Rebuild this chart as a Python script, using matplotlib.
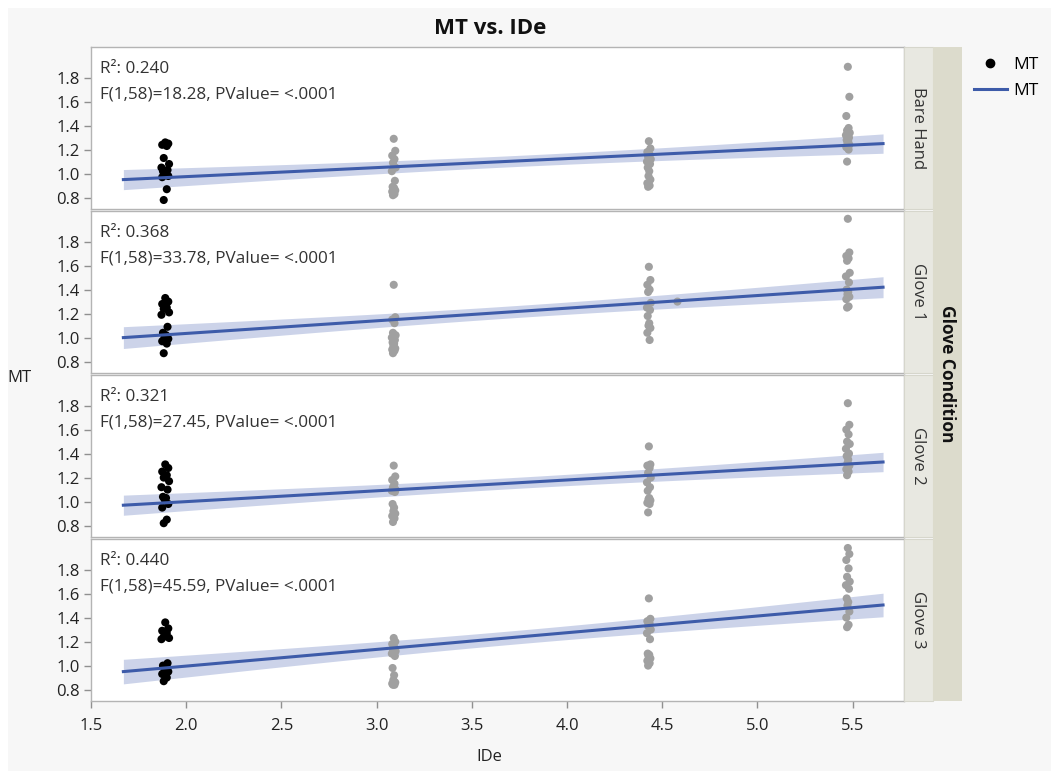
import numpy as np
import matplotlib
matplotlib.use('Agg')
import matplotlib.pyplot as plt
from matplotlib.patches import Rectangle
from matplotlib.lines import Line2D

plt.rcParams['font.family'] = ['Open Sans', 'DejaVu Sans']

# ---------------- data ----------------
panels = ['Bare Hand', 'Glove 1', 'Glove 2', 'Glove 3']
ide_levels = [1.89, 3.09, 4.43, 5.475]
r2_text = ['0.240', '0.368', '0.321', '0.440']
f_text = ['18.28', '33.78', '27.45', '45.59']
fit_x = [1.67, 5.66]
fit_start = [0.95, 1.00, 0.97, 0.95]
fit_end = [1.25, 1.42, 1.33, 1.505]

mt_bare = [
    [1.26, 1.25, 1.24, 1.23, 1.13, 1.08, 1.05, 1.03, 1.02, 1.01, 1.00, 0.98, 0.97, 0.87, 0.78],
    [1.29, 1.19, 1.15, 1.12, 1.09, 1.05, 1.02, 0.94, 0.89, 0.88, 0.87, 0.86, 0.85, 0.83, 0.82],
    [1.27, 1.21, 1.18, 1.16, 1.14, 1.12, 1.10, 1.08, 1.05, 1.02, 0.98, 0.95, 0.92, 0.90, 0.89],
    [1.89, 1.64, 1.48, 1.38, 1.36, 1.34, 1.32, 1.30, 1.28, 1.27, 1.25, 1.24, 1.22, 1.20, 1.10],
]
mt_glove1 = [
    [1.33, 1.30, 1.28, 1.25, 1.24, 1.21, 1.19, 1.09, 1.04, 1.02, 1.00, 0.99, 0.97, 0.95, 0.87],
    [1.44, 1.17, 1.15, 1.12, 1.04, 1.02, 1.00, 0.98, 0.96, 0.95, 0.93, 0.91, 0.90, 0.89, 0.87],
    [1.59, 1.48, 1.44, 1.40, 1.38, 1.29, 1.25, 1.23, 1.18, 1.12, 1.10, 1.08, 1.04, 0.98],
    [1.99, 1.71, 1.68, 1.66, 1.64, 1.54, 1.51, 1.46, 1.40, 1.38, 1.36, 1.34, 1.32, 1.26, 1.25],
]
mt_glove2 = [
    [1.31, 1.28, 1.25, 1.22, 1.20, 1.17, 1.12, 1.10, 1.04, 1.03, 1.02, 0.98, 0.95, 0.85, 0.82],
    [1.30, 1.21, 1.18, 1.15, 1.12, 1.10, 1.09, 1.08, 0.98, 0.95, 0.92, 0.90, 0.88, 0.86, 0.83],
    [1.46, 1.31, 1.30, 1.28, 1.24, 1.20, 1.16, 1.12, 1.09, 1.03, 1.02, 1.01, 0.99, 0.98, 0.91],
    [1.82, 1.64, 1.60, 1.56, 1.50, 1.48, 1.44, 1.40, 1.38, 1.35, 1.32, 1.30, 1.27, 1.25, 1.22],
]
mt_glove3 = [
    [1.36, 1.31, 1.29, 1.27, 1.24, 1.23, 1.22, 1.02, 1.00, 0.98, 0.97, 0.95, 0.93, 0.90, 0.87],
    [1.23, 1.20, 1.18, 1.15, 1.13, 1.12, 1.10, 1.08, 0.98, 0.92, 0.88, 0.86, 0.85, 0.84, 0.84],
    [1.56, 1.39, 1.37, 1.35, 1.33, 1.30, 1.27, 1.22, 1.10, 1.09, 1.08, 1.06, 1.04, 1.02, 1.00],
    [1.98, 1.93, 1.88, 1.81, 1.74, 1.70, 1.67, 1.64, 1.56, 1.53, 1.50, 1.45, 1.40, 1.34, 1.32],
]
# single off-level observation (Glove 1)
extra_ide = [None, 4.58, None, None]
extra_mt = [None, 1.30, None, None]

all_mt = [mt_bare, mt_glove1, mt_glove2, mt_glove3]

# small horizontal spread of points within an IDe level
jitter = [0.0, 0.02, -0.02, 0.01, -0.01, 0.025, -0.025, 0.015,
          -0.015, 0.005, -0.005, 0.02, -0.02, 0.01, -0.01]

# ---------------- figure ----------------
W, H = 1059, 771
fig = plt.figure(figsize=(W / 100, H / 100), dpi=100)
fig.patch.set_facecolor('white')
fig.add_artist(Rectangle((8 / W, 0), (1051 - 8) / W, 1 - 8 / H,
                         transform=fig.transFigure, facecolor='#f7f7f7',
                         edgecolor='none', zorder=0))

def fx(px):
    return px / W

def fy(py):
    return 1 - py / H

left_px, right_px = 91, 904
top_px, bottom_px = 47, 701
gap = 2
ph = (bottom_px - top_px - 3 * gap) / 4

blue = '#3d5ba9'
band_col = '#c3cce6'
grey_pt = '#a0a0a0'
spine_col = '#b4b4b4'
tick_fs = 12
txt_col = '#333333'

for i, name in enumerate(panels):
    t = top_px + i * (ph + gap)
    b = t + ph
    ax = fig.add_axes([fx(left_px), fy(b), fx(right_px) - fx(left_px), (b - t) / H])
    ax.set_facecolor('white')
    ax.set_xlim(1.5, 5.77)
    ax.set_ylim(0.705, 2.055)
    ax.set_yticks([0.8, 1.0, 1.2, 1.4, 1.6, 1.8])
    ax.set_yticklabels(['0.8', '1.0', '1.2', '1.4', '1.6', '1.8'])
    for s in ax.spines.values():
        s.set_color(spine_col)
        s.set_linewidth(1)
    ax.tick_params(axis='y', length=5, width=1, color='#909090', labelsize=tick_fs,
                   labelcolor='#222222', pad=3)
    if i < 3:
        ax.tick_params(axis='x', bottom=False, labelbottom=False)
    else:
        ax.set_xticks([1.5, 2.0, 2.5, 3.0, 3.5, 4.0, 4.5, 5.0, 5.5])
        ax.set_xticklabels(['1.5', '2.0', '2.5', '3.0', '3.5', '4.0', '4.5', '5.0', '5.5'])
        ax.tick_params(axis='x', length=5, width=1, color='#909090', labelsize=tick_fs,
                       labelcolor='#222222', pad=7)

    # points
    xs_all, ys_all = [], []
    for g, (lev, vals) in enumerate(zip(ide_levels, all_mt[i])):
        scale = 0.8 if g == 0 else 0.4
        xs = [lev + scale * jitter[k % len(jitter)] for k in range(len(vals))]
        xs_all += xs
        ys_all += vals
        ax.scatter(xs, vals, s=34, color='black' if g == 0 else grey_pt,
                   edgecolors='none', zorder=3 if g == 0 else 2)
    if extra_ide[i] is not None:
        ax.scatter([extra_ide[i]], [extra_mt[i]], s=34, color=grey_pt,
                   edgecolors='none', zorder=2)
        xs_all.append(extra_ide[i])
        ys_all.append(extra_mt[i])

    # fit line and confidence band
    slope = (fit_end[i] - fit_start[i]) / (fit_x[1] - fit_x[0])
    icpt = fit_start[i] - slope * fit_x[0]
    xa = np.array(xs_all)
    ya = np.array(ys_all)
    n = len(xa)
    resid = ya - (icpt + slope * xa)
    s_err = np.sqrt(np.sum(resid ** 2) / (n - 2))
    xbar = xa.mean()
    sxx = np.sum((xa - xbar) ** 2)
    xl = np.linspace(fit_x[0], fit_x[1], 100)
    yl = icpt + slope * xl
    hw = 2.0 * s_err * np.sqrt(1 / n + (xl - xbar) ** 2 / sxx)
    ax.fill_between(xl, yl - hw, yl + hw, color=band_col, alpha=0.85,
                    linewidth=0, zorder=1)
    ax.plot(xl, yl, color=blue, lw=2.2, zorder=4)

    ax.text(0.011, 0.865, 'R\u00b2: ' + r2_text[i], transform=ax.transAxes,
            fontsize=12.3, color=txt_col, va='center', ha='left')
    ax.text(0.011, 0.705, 'F(1,58)=' + f_text[i] + ', PValue= <.0001',
            transform=ax.transAxes, fontsize=12.3, color=txt_col,
            va='center', ha='left')

    # strip label
    fig.add_artist(Rectangle((fx(904), fy(b)), fx(933) - fx(904), (b - t) / H,
                             transform=fig.transFigure, facecolor='#e8e8e1',
                             edgecolor='#d6d6cc', lw=0.8, zorder=1))
    fig.text(fx(918.5), fy((t + b) / 2), name, rotation=-90, ha='center', va='center',
             fontsize=12, color=txt_col)

# outer strip
fig.add_artist(Rectangle((fx(933), fy(bottom_px)), fx(962) - fx(933),
                         (bottom_px - top_px) / H, transform=fig.transFigure,
                         facecolor='#dcdbcc', edgecolor='none', zorder=1))
fig.text(fx(947.5), fy((top_px + bottom_px) / 2), 'Glove Condition', rotation=-90,
         ha='center', va='center', fontsize=12.5, fontweight='bold', color='#111111')

# title and axis labels
fig.text(fx(490), fy(28), 'MT vs. IDe', ha='center', va='center',
         fontsize=16, fontweight='bold', color='#111111')
fig.text(fx(489), fy(757), 'IDe', ha='center', va='center', fontsize=12,
         color='#222222')
fig.text(fx(19), fy(378), 'MT', ha='center', va='center', fontsize=12,
         color='#222222')

# legend
handles = [Line2D([], [], marker='o', color='black', linestyle='none', markersize=6),
           Line2D([], [], color=blue, lw=2.2)]
fig.legend(handles, ['MT', 'MT'], loc='upper left',
           bbox_to_anchor=(fx(967), fy(50)), frameon=False, fontsize=12.5,
           handlelength=1.9, handletextpad=0.35, labelspacing=0.55,
           borderaxespad=0)

fig.savefig('out.png', dpi=100, facecolor=fig.get_facecolor())
